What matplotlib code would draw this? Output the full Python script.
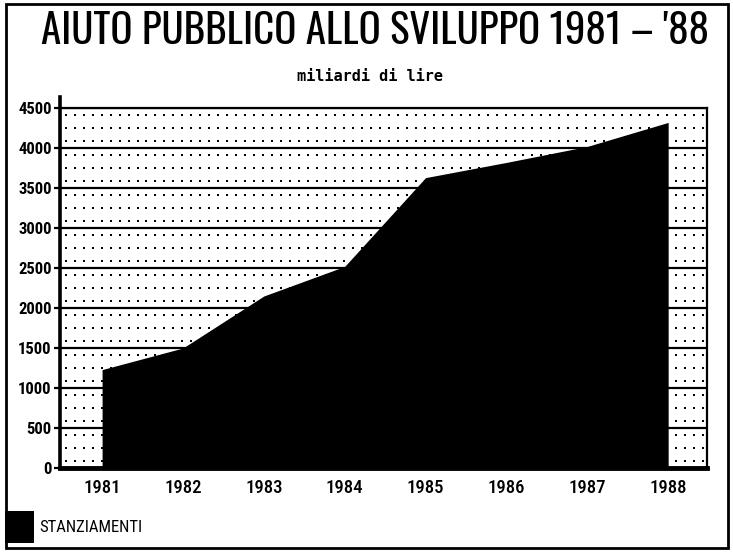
import numpy as np
import matplotlib
matplotlib.use("Agg")
import matplotlib.pyplot as plt
from matplotlib.patches import Patch, Rectangle

# Aiuto pubblico allo sviluppo, stanziamenti in miliardi di lire
years = [1981, 1982, 1983, 1984, 1985, 1986, 1987, 1988]
stanziamenti = [1230, 1500, 2150, 2520, 3630, 3820, 4020, 4320]
y_ticks = [0, 500, 1000, 1500, 2000, 2500, 3000, 3500, 4000, 4500]
series_label = "STANZIAMENTI"

TITLE_FONT = ["Oswald", "DejaVu Sans"]
NARROW = ["Roboto Condensed", "DejaVu Sans"]
MONO = ["DejaVu Sans Mono"]

fig = plt.figure(figsize=(7.33, 5.52), dpi=100)
ax = fig.add_axes([0.0819, 0.1522, 0.8826, 0.6521])

x_lo, x_hi = 1980.48, 1988.48
ax.set_xlim(x_lo, x_hi)
ax.set_ylim(0, 4500)

# dotted screen behind the chart, three rows of dots per band
step_x = 0.111
dot_x = np.arange(x_lo + 0.07, x_hi - 0.03, step_x)
dot_y = np.concatenate([[b + 500 * f for f in (0.17, 0.5, 0.83)] for b in y_ticks[:-1]])
gx, gy = np.meshgrid(dot_x, dot_y)
ax.scatter(gx.ravel(), gy.ravel(), s=1.6, marker="s", color="black", linewidths=0, zorder=0)

for yv in y_ticks:
    ax.axhline(yv, color="black", lw=1.6, zorder=1)

ax.fill_between(years, stanziamenti, 0, color="black", lw=0, zorder=2)

for side in ("left", "right", "top", "bottom"):
    ax.spines[side].set_color("black")
ax.spines["left"].set_linewidth(2.6)
ax.spines["right"].set_linewidth(1.6)
ax.spines["top"].set_linewidth(1.6)
ax.spines["bottom"].set_linewidth(3.5)
ax.spines["left"].set_bounds(0, 4640)

ax.set_yticks(y_ticks)
ax.set_yticklabels([str(v) for v in y_ticks], family=NARROW, fontsize=12, fontweight="bold")
ax.tick_params(axis="y", length=4, width=1.6, pad=2)
ax.set_xticks(years)
ax.set_xticklabels([str(y) for y in years], family=NARROW, fontsize=13.5, fontweight="medium")
ax.tick_params(axis="x", length=0, pad=8)

fig.text(0.512, 0.943, "AIUTO PUBBLICO ALLO SVILUPPO 1981 \u2013 '88", family=TITLE_FONT,
         fontsize=29.5, ha="center", va="center")
fig.text(0.505, 0.862, "miliardi di lire", family=MONO, fontsize=11, fontweight="bold",
         ha="center", va="center")

fig.legend(handles=[Patch(facecolor="black", label=series_label)], loc="lower left",
           bbox_to_anchor=(0.007, 0.016), frameon=False, borderpad=0, borderaxespad=0,
           handlelength=1.75, handleheight=2.6, handletextpad=0.3,
           prop={"family": NARROW, "size": 12})

# frame around the whole sheet
fig.add_artist(Rectangle((0.008, 0.007), 0.985, 0.986, transform=fig.transFigure,
                         fill=False, edgecolor="black", lw=2))

fig.savefig("out.png", dpi=100)
